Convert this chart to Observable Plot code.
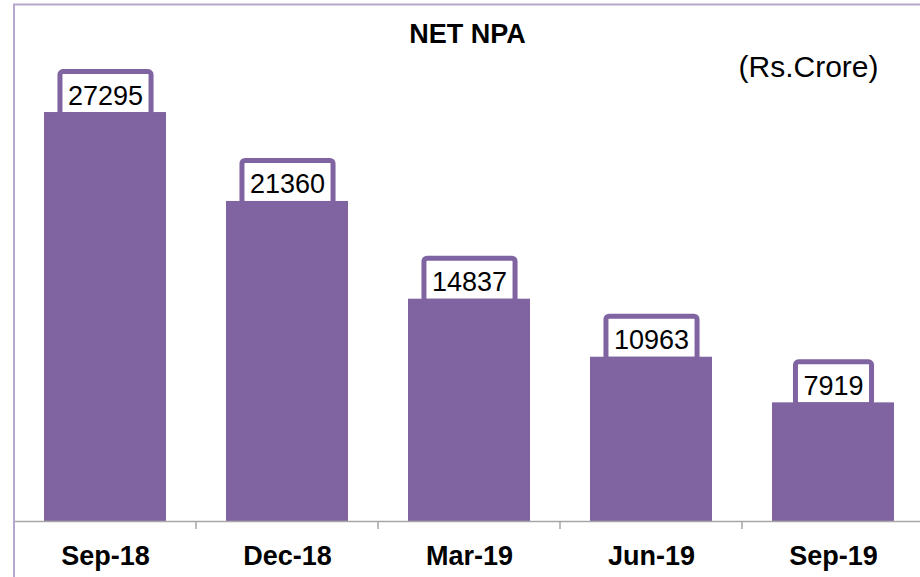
<!DOCTYPE html>
<html><head><meta charset="utf-8">
<script src="https://cdn.jsdelivr.net/npm/d3@7"></script>
<script src="https://cdn.jsdelivr.net/npm/@observablehq/plot@0.6"></script>
<style>body{margin:0;background:#fff} svg{display:block}</style>
</head><body><div id="chart"></div>
<script>
const categories = ["Sep-18","Dec-18","Mar-19","Jun-19","Sep-19"];
const values = [27295,21360,14837,10963,7919];
const chartTitle = "NET NPA";
const unitLabel = "(Rs.Crore)";
const data = categories.map((c,i)=>({category:c, value:values[i]}));
const purple = "#8064A2";
const font = "'Liberation Sans', Arial, sans-serif";
const plot = Plot.plot({
  width: 920, height: 577,
  marginLeft: 14, marginRight: 0, marginTop: 71.5, marginBottom: 56,
  style: {fontFamily: font, background: "#fff", color: "#000", overflow: "visible"},
  x: {domain: categories, range: [14, 924], paddingInner: 0.33, paddingOuter: 0.165, label: null},
  y: {domain: [0, 30000], axis: null},
  marks: [
    Plot.barY(data, {x: "category", y: "value", fill: purple}),
    Plot.ruleY([0], {stroke: "#A6A6A6", strokeWidth: 1.5}),
    Plot.text(data, {x: "category", y: "value", text: d => String(d.value), dy: -8, lineAnchor: "bottom", fontSize: 27, fill: "#000"}),
    Plot.axisX({tickSize: 0, tickPadding: 24, fontSize: 27, fontWeight: "bold", fill: "#000"}),
    Plot.text([chartTitle], {text: d => d, frameAnchor: "top", lineAnchor: "middle", dy: -37.5, fontSize: 27, fontWeight: "bold", fill: "#000"}),
    Plot.text([unitLabel], {text: d => d, frameAnchor: "top-right", lineAnchor: "middle", textAnchor: "end", dx: -42, dy: -4.5, fontSize: 30, fill: "#000"})
  ]
});
document.getElementById("chart").append(plot);
const svg = d3.select(plot);
const xs = plot.scale("x"), ys = plot.scale("y");
const step = xs.step, bw = xs.bandwidth;
const svgRect = plot.getBoundingClientRect();
// label boxes behind bars
const barG = plot.querySelector('g[aria-label="bar"]');
const boxG = document.createElementNS("http://www.w3.org/2000/svg", "g");
plot.insertBefore(boxG, barG);
const labelTexts = plot.querySelectorAll('g[aria-label="text"]')[0].querySelectorAll("text");
labelTexts.forEach((t, i) => {
  const b = t.getBoundingClientRect();
  const bx = b.left - svgRect.left;
  const top = ys.apply(values[i]);
  d3.select(boxG).append("rect")
    .attr("x", bx - 8).attr("width", b.width + 16)
    .attr("y", top - 40.5).attr("height", 43)
    .attr("rx", 3).attr("fill", "#fff").attr("stroke", purple).attr("stroke-width", 5);
});
// category boundary ticks
const y0 = ys.apply(0);
categories.forEach(c => {
  const bxp = xs.apply(c) + bw / 2 - step / 2;
  svg.append("line").attr("x1", bxp).attr("x2", bxp).attr("y1", y0).attr("y2", y0 + 8)
    .attr("stroke", "#A6A6A6").attr("stroke-width", 1.5);
});
// chart area border
svg.append("line").attr("x1", 14).attr("x2", 14).attr("y1", 4.5).attr("y2", 577).attr("stroke", "#B7A6CE").attr("stroke-width", 2);
svg.append("line").attr("x1", 13).attr("x2", 920).attr("y1", 4.5).attr("y2", 4.5).attr("stroke", "#B7A6CE").attr("stroke-width", 2);
</script></body></html>
